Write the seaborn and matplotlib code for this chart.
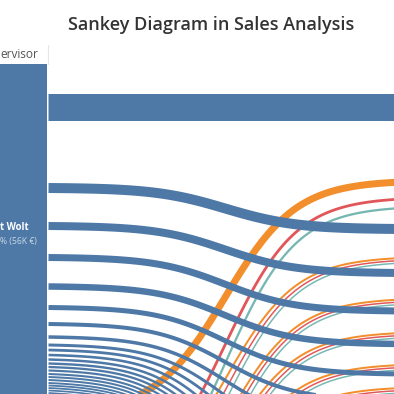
import numpy as np
import pandas as pd
import matplotlib
matplotlib.use("Agg")
import matplotlib.pyplot as plt
import seaborn as sns

# Dados (escala do painel: 0..394 de cima para baixo)
title = "Sankey Diagram in Sales Analysis"
header = "ervisor"
node_name = "t Wolt"
node_share = "% (56K €)"

node_top = 64
node_bottom = 400
node_right = 47.5

flow_start = 48.5
flow_end = 402

# supervisor azul -> destinos
blue_left = [106.5, 188, 226, 257.5, 286.5, 307.5, 324, 337, 345, 350, 355, 359.5,
             363.5, 367, 370.5, 374, 377, 380, 383, 385.5, 388, 390.5, 393]
blue_right = [106.5, 229, 273, 311, 344, 374, 400, 424, 446, 467, 487, 506,
              524, 541, 557, 572, 586, 599, 611, 622, 632, 641, 649]
blue_width = [27, 10, 8, 7, 6.5, 5, 4, 3.5, 3, 2.8, 2.6, 2.5,
              2.4, 2.3, 2.2, 2.1, 2, 2, 1.9, 1.8, 1.8, 1.7, 1.7]

# outros supervisores (origem fora da imagem)
orange_left = [412, 500, 543, 560, 590, 610]
orange_right = [182, 258, 299.5, 333, 365, 388]
orange_width = [7, 2, 2, 2, 2, 2]

red_left = [490, 520, 560, 580, 610, 630]
red_right = [199, 260.5, 302, 335.5, 367.5, 390.5]
red_width = [2.8, 1.5, 1.5, 1.5, 1.5, 1.5]

teal_left = [518, 540, 580, 600, 630, 650]
teal_right = [208, 263, 304.5, 338, 370, 393]
teal_width = [2.3, 1.5, 1.5, 1.5, 1.5, 1.5]

colors = {"blue": "#4e79a7", "orange": "#f28e2b", "red": "#e15759", "teal": "#76b7b2"}


def sigmoid_curve(y0, y1, n=120):
    t = np.linspace(-5, 5, n)
    s = 1 / (1 + np.exp(-t))
    s = (s - s[0]) / (s[-1] - s[0])
    x = np.linspace(flow_start, flow_end, n)
    return x, y0 + (y1 - y0) * s


def build_frame(name, lefts, rights, widths):
    rows = []
    for i, (a, b, w) in enumerate(zip(lefts, rights, widths)):
        x, y = sigmoid_curve(a, b)
        rows.append(pd.DataFrame({"x": x, "y": y, "band": f"{name}{i}",
                                  "sup": name, "w": w * 0.72}))
    return pd.concat(rows, ignore_index=True)


frames = {
    "orange": build_frame("orange", orange_left, orange_right, orange_width),
    "red": build_frame("red", red_left, red_right, red_width),
    "teal": build_frame("teal", teal_left, teal_right, teal_width),
    "blue": build_frame("blue", blue_left, blue_right, blue_width),
}

sns.set_theme(style="white")
plt.rcParams["font.family"] = ["Open Sans", "DejaVu Sans"]

fig = plt.figure(figsize=(3.94, 3.94), dpi=100)
ax = fig.add_axes([0, 0, 1, 1])

for name in ["teal", "red", "orange", "blue"]:
    df = frames[name]
    sizes = df.groupby("band")["w"].first().to_dict()
    sns.lineplot(data=df, x="x", y="y", units="band", estimator=None, sort=False,
                 hue="sup", palette={name: colors[name]}, size="band", sizes=sizes,
                 legend=False, solid_capstyle="butt", ax=ax)

# barra do no do supervisor
ax.bar([node_right / 2], [node_bottom - node_top], bottom=[node_top],
       width=node_right, color=colors["blue"], linewidth=0)
ax.plot([48, 48], [45, 64], color="#e6e6e6", lw=0.8)

ax.text(0.5, 54.5, header, ha="left", va="center", fontsize=8.6, color="#555555")
ax.text(0.5, 227, node_name, ha="left", va="center", fontsize=6.9,
        fontweight="bold", color="white")
ax.text(0.5, 241.5, node_share, ha="left", va="center", fontsize=6.2,
        color="white", alpha=0.7)

ax.set_xlim(0, 394)
ax.set_ylim(394, 0)
ax.axis("off")

fig.text(211 / 394, 1 - 25 / 394, title, ha="center", va="center",
         fontsize=13, fontweight="semibold", color="#333333")

fig.savefig("out.png", dpi=100)
